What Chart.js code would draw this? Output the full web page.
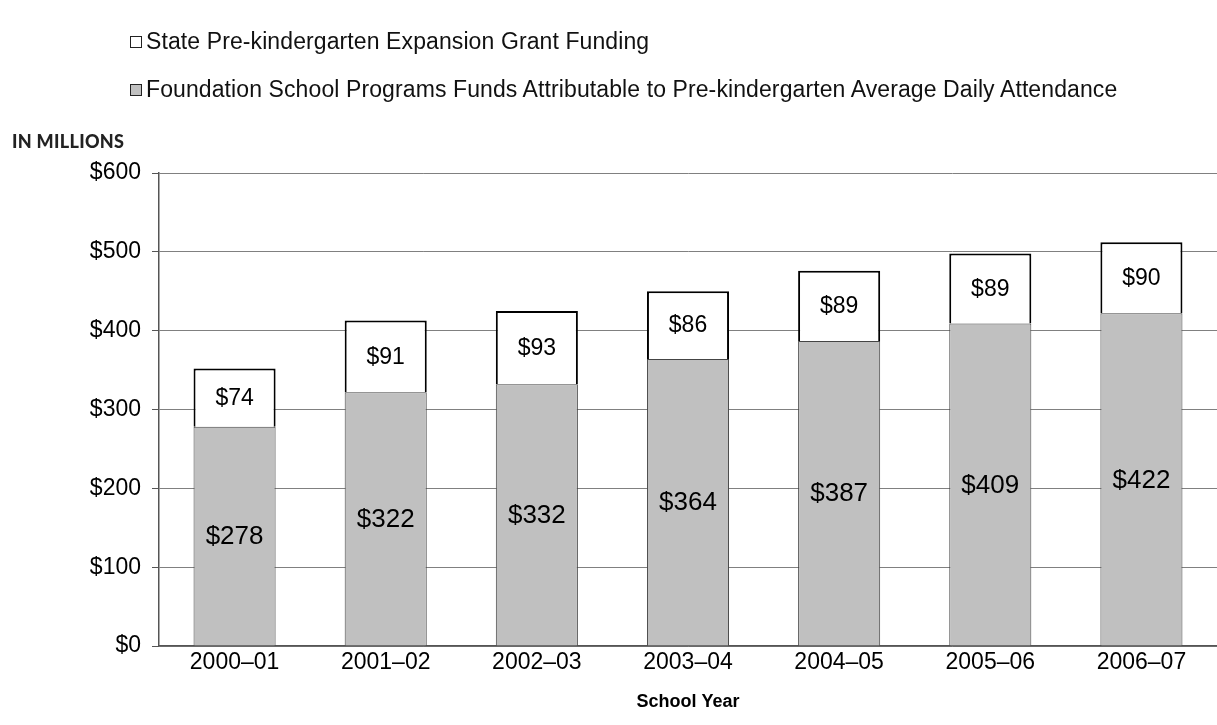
<!DOCTYPE html>
<html>
<head>
<meta charset="utf-8">
<script src="https://cdn.jsdelivr.net/npm/chart.js@4"></script>
<style>
  html, body { margin: 0; padding: 0; background: #fff; }
  #wrap { position: relative; width: 1217px; height: 725px; }
  canvas { position: absolute; left: 0; top: 0; }
  .leg { position: absolute; left: 130px; font-family: "Liberation Sans", Arial, sans-serif; font-size: 23px; line-height: 26px; letter-spacing: 0.1px; color: #111; white-space: nowrap; }
  .leg .sw { display: inline-block; box-sizing: border-box; width: 12px; height: 12px; border: 1.5px solid #222; margin-right: 4px; vertical-align: 1px; }
  #unit { position: absolute; left: 12px; top: 131px; font-family: Lato, "Open Sans", sans-serif; font-weight: 900; font-size: 18px; line-height: 20px; letter-spacing: 0.3px; color: #222; }
</style>
</head>
<body>
<div id="wrap">
  <canvas id="c" width="1217" height="725"></canvas>
  <div class="leg" id="leg1" style="top:28px"><span class="sw" style="background:#fff"></span></div>
  <div class="leg" id="leg2" style="top:76px"><span class="sw" style="background:#c0c0c0"></span></div>
  <div id="unit"></div>
</div>
<script>
const categories = ["2000–01", "2001–02", "2002–03", "2003–04", "2004–05", "2005–06", "2006–07"];
const foundationFunds = [278, 322, 332, 364, 387, 409, 422];
const expansionGrant = [74, 91, 93, 86, 89, 89, 90];
const seriesNames = [
  "State Pre-kindergarten Expansion Grant Funding",
  "Foundation School Programs Funds Attributable to Pre-kindergarten Average Daily Attendance"
];
const yTicks = [0, 100, 200, 300, 400, 500, 600];
const axisTitle = "School Year";
const unitLabel = "IN MILLIONS";

document.getElementById('leg1').appendChild(document.createTextNode(seriesNames[0]));
document.getElementById('leg2').appendChild(document.createTextNode(seriesNames[1]));
document.getElementById('unit').textContent = unitLabel;

const FONT = '"Liberation Sans", Arial, sans-serif';

const valueLabels = {
  id: 'valueLabels',
  afterDatasetsDraw(chart) {
    const ctx = chart.ctx;
    ctx.save();
    ctx.textAlign = 'center';
    ctx.textBaseline = 'middle';
    ctx.fillStyle = '#000';
    chart.data.datasets.forEach((ds, di) => {
      const meta = chart.getDatasetMeta(di);
      ctx.font = (di === 0 ? '26px ' : '23px ') + FONT;
      meta.data.forEach((bar, i) => {
        const y = (bar.y + bar.base) / 2;
        ctx.fillText('$' + ds.data[i], bar.x, y + 1);
      });
    });
    ctx.restore();
  }
};

new Chart(document.getElementById('c'), {
  type: 'bar',
  data: {
    labels: categories,
    datasets: [
      {
        label: seriesNames[1],
        data: foundationFunds,
        backgroundColor: '#c0c0c0',
        borderColor: '#444',
        borderWidth: 1,
        barPercentage: 0.543,
        categoryPercentage: 1
      },
      {
        label: seriesNames[0],
        data: expansionGrant,
        backgroundColor: '#ffffff',
        borderColor: '#000',
        borderWidth: 2,
        barPercentage: 0.543,
        categoryPercentage: 1
      }
    ]
  },
  options: {
    responsive: false,
    animation: false,
    layout: { padding: { top: 173, right: 0, bottom: 12, left: 0 } },
    plugins: {
      legend: { display: false },
      tooltip: { enabled: false }
    },
    scales: {
      x: {
        stacked: true,
        grid: { display: false, drawTicks: false },
        border: { display: true, color: '#555', width: 1.5 },
        ticks: { color: '#000', font: { family: FONT, size: 23 }, padding: 3, maxRotation: 0 },
        title: { display: true, text: axisTitle, color: '#000', font: { family: FONT, size: 18, weight: 'bold' }, padding: { top: 0, bottom: 0 } },
        afterFit(scale) { scale.height = 67; }
      },
      y: {
        stacked: true,
        min: 0,
        max: 600,
        afterBuildTicks(scale) { scale.ticks = yTicks.map(v => ({ value: v })); },
        grid: { color: '#808080', lineWidth: 1, tickLength: 7, drawTicks: true, tickColor: '#555' },
        border: { display: true, color: '#555', width: 1.5 },
        ticks: {
          color: '#000',
          font: { family: FONT, size: 23 },
          padding: 11,
          callback: v => '$' + v
        },
        afterFit(scale) { scale.width = 159; }
      }
    }
  },
  plugins: [valueLabels]
});
</script>
</body>
</html>
